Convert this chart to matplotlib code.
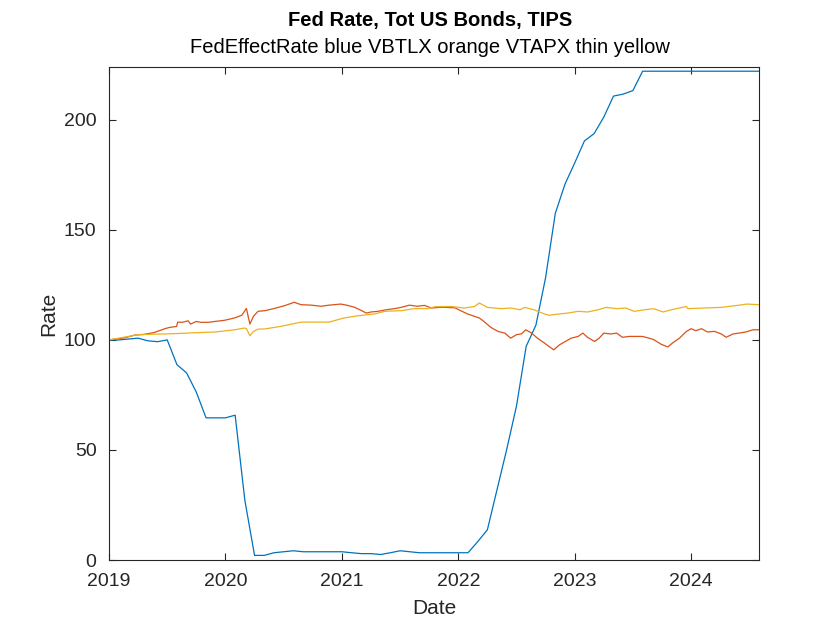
# Fed funds rate vs total bond (VBTLX) and TIPS (VTAPX), all rebased to 100 at Jan 2019
import matplotlib.pyplot as plt

plt.rcParams['font.family'] = ['Liberation Sans', 'DejaVu Sans']

# Fed effective rate, monthly from Jan 2019 to Aug 2024 (rebased)
fed_start_year = 2019
fed_vals = [100, 100, 100.4, 100.8, 99.6, 99.2, 100, 88.75, 85, 76.25, 64.6, 64.6,
            64.6, 65.8, 27.1, 2.1, 2.1, 3.3, 3.75, 4.2, 3.75, 3.75, 3.75, 3.75,
            3.75, 3.3, 2.9, 2.9, 2.5, 3.3, 4.2, 3.75, 3.3, 3.3, 3.3, 3.3,
            3.3, 3.3, 8.3, 13.75, 32.1, 50.4, 70, 97.1, 106.7, 128.3, 157.5, 170.8,
            180.4, 190.4, 193.75, 201.25, 210.8, 211.7, 213.3, 222.1, 222.1, 222.1, 222.1, 222.1,
            222.1, 222.1, 222.1, 222.1, 222.1, 222.1, 222.1, 222.1]

# VBTLX (decimal year, rebased value)
vbtlx_t = [2019.00, 2019.07, 2019.14, 2019.22, 2019.30, 2019.39, 2019.48, 2019.52, 2019.58,
           2019.59, 2019.63, 2019.68, 2019.70, 2019.75, 2019.79, 2019.85, 2019.91, 2019.99,
           2020.08, 2020.14, 2020.18, 2020.21, 2020.24, 2020.28, 2020.34, 2020.42, 2020.51,
           2020.59, 2020.65, 2020.74, 2020.82, 2020.89, 2020.99, 2021.05, 2021.11, 2021.17,
           2021.21, 2021.25, 2021.31, 2021.38, 2021.45, 2021.51, 2021.58, 2021.65, 2021.71,
           2021.77, 2021.84, 2021.88, 2021.97, 2022.02, 2022.08, 2022.14, 2022.18, 2022.22,
           2022.28, 2022.34, 2022.40, 2022.45, 2022.50, 2022.54, 2022.58, 2022.63, 2022.68,
           2022.74, 2022.78, 2022.82, 2022.87, 2022.91, 2022.97, 2023.03, 2023.07, 2023.11,
           2023.17, 2023.21, 2023.25, 2023.31, 2023.36, 2023.41, 2023.47, 2023.53, 2023.58,
           2023.64, 2023.68, 2023.74, 2023.80, 2023.84, 2023.90, 2023.96, 2024.00, 2024.04,
           2024.09, 2024.14, 2024.20, 2024.26, 2024.30, 2024.36, 2024.41, 2024.47, 2024.53,
           2024.58]
vbtlx_v = [100, 100.5, 101, 102.2, 102.5, 103.4, 105.1, 105.7, 106.1,
           108.1, 108, 108.7, 107.2, 108.4, 108, 108, 108.4, 108.9,
           110, 111.2, 114.3, 107.2, 110.7, 113, 113.3, 114.3, 115.6,
           117.1, 116, 115.8, 115.3, 115.8, 116.3, 115.7, 114.8, 113.3,
           112.2, 112.7, 113, 113.7, 114.2, 114.8, 115.8, 115.3, 115.7,
           114.5, 114.8, 114.8, 114.6, 113.3, 111.8, 110.7, 110, 108.4,
           105.7, 103.9, 103.1, 100.8, 102.4, 102.7, 104.6, 103.1, 100.8,
           98.6, 97, 95.5, 97.8, 99, 100.8, 101.6, 103.1, 101.2,
           99.3, 100.8, 103.1, 102.7, 103.1, 101.2, 101.6, 101.6, 101.6,
           100.8, 100.1, 98.1, 96.8, 98.6, 100.8, 103.9, 105.1, 104.2,
           105.1, 103.6, 103.9, 102.7, 101.2, 102.7, 103.1, 103.6, 104.6,
           104.6]

# VTAPX (decimal year, rebased value)
vtapx_t = [2019.00, 2019.25, 2019.54, 2019.75, 2019.91, 2020.08, 2020.16, 2020.18, 2020.21,
           2020.24, 2020.28, 2020.34, 2020.48, 2020.65, 2020.89, 2021.02, 2021.14, 2021.28,
           2021.37, 2021.51, 2021.62, 2021.74, 2021.80, 2021.94, 2022.05, 2022.14, 2022.18,
           2022.25, 2022.37, 2022.45, 2022.53, 2022.57, 2022.65, 2022.74, 2022.78, 2022.82,
           2022.94, 2023.03, 2023.11, 2023.20, 2023.27, 2023.36, 2023.44, 2023.51, 2023.60,
           2023.68, 2023.76, 2023.83, 2023.96, 2023.97, 2024.11, 2024.26, 2024.40, 2024.48,
           2024.58]
vtapx_v = [100, 102.4, 102.8, 103.3, 103.6, 104.6, 105.4, 105.2, 101.9,
           103.8, 104.9, 105, 106.2, 108.1, 108.1, 110, 111, 111.8,
           113, 113.3, 114.2, 114.2, 115.1, 115.2, 114.5, 115.2, 116.8,
           114.8, 114.2, 114.5, 113.7, 114.8, 113.7, 111.8, 111.2, 111.5,
           112.2, 113, 112.7, 113.7, 114.8, 114.2, 114.5, 113, 113.7,
           114.2, 112.7, 113.7, 115.2, 114.2, 114.5, 114.8, 115.7, 116.3,
           116]

years = [2019, 2020, 2021, 2022, 2023, 2024]
fed_t = [fed_start_year + i / 12 for i in range(len(fed_vals))]

fig = plt.figure(figsize=(8.4, 6.3), dpi=100)
ax = fig.add_axes([0.1298, 0.1111, 0.7738, 0.7825])

ax.plot(fed_t, fed_vals, color='#0072BD', linewidth=0.9)
ax.plot(vbtlx_t, vbtlx_v, color='#D95319', linewidth=0.9)
ax.plot(vtapx_t, vtapx_v, color='#EDB120', linewidth=0.9)

ax.set_xlim(2019, fed_t[-1])
ax.set_ylim(0, 224)
ax.set_xticks(years)
ax.set_xticklabels([str(y) for y in years])
ax.set_yticks([0, 50, 100, 150, 200])
ax.tick_params(direction='in', top=True, right=True, length=5, width=0.8,
               labelsize=14, colors='#262626')
ax.tick_params(axis='x', pad=9)
ax.tick_params(axis='y', pad=9)
for s in ax.spines.values():
    s.set_color('#262626')
    s.set_linewidth(0.8)

ax.set_xlabel('Date', fontsize=15, color='#262626', labelpad=7)
ax.set_ylabel('Rate', fontsize=15, color='#262626', labelpad=4)

fig.text(0.512, 0.968, 'Fed Rate, Tot US Bonds, TIPS', ha='center', va='center',
         fontsize=14.5, fontweight='bold')
fig.text(0.512, 0.925, 'FedEffectRate blue VBTLX orange VTAPX thin yellow',
         ha='center', va='center', fontsize=14.5)

fig.savefig('out.png', dpi=100)
